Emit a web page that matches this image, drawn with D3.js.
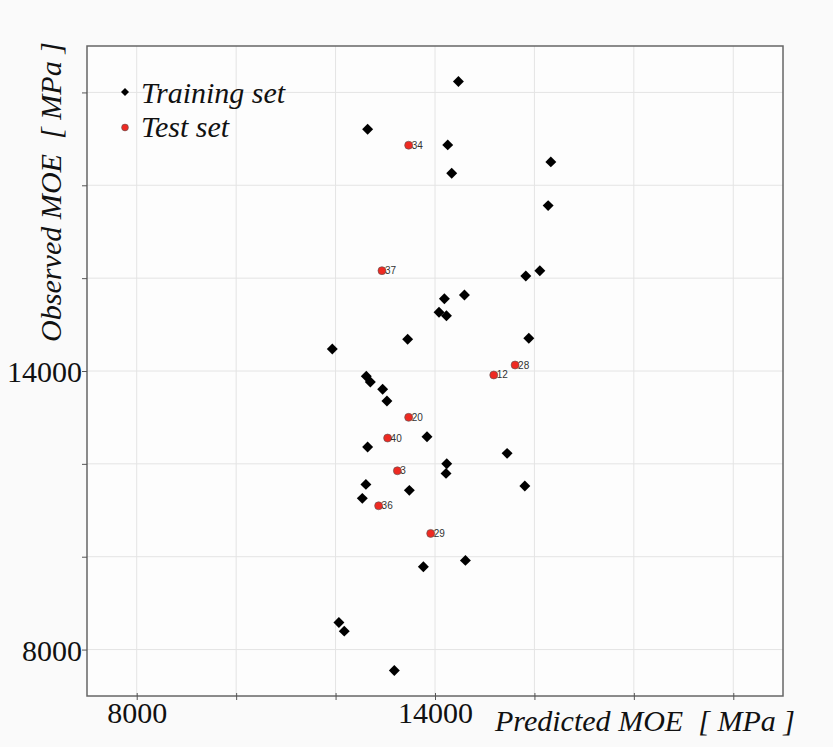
<!DOCTYPE html>
<html>
<head>
<meta charset="utf-8">
<script src="https://cdn.jsdelivr.net/npm/d3@7"></script>
<style>
  body { margin: 0; background: #fafafa; }
  svg { display: block; }
</style>
</head>
<body>
<div id="chart"></div>
<script>
// Training set: predicted vs observed MOE (MPa)
const trainPredicted = [14471, 12645, 14256, 14336, 16330, 16276, 16109, 15827, 14592, 14189,
  14081, 14230, 13450, 15887, 11934, 12618, 12699, 12947, 13033, 13839,
  12645, 15450, 14236, 14222, 12610, 15807, 13484, 12538, 14612, 13766,
  12067, 12175, 13182];
const trainObserved = [20234, 19209, 18870, 18260, 18504, 17562, 16161, 16047, 15638, 15558,
  15265, 15192, 14683, 14705, 14474, 13886, 13763, 13606, 13354, 12584,
  12362, 12226, 12002, 11795, 11558, 11522, 11429, 11257, 9921, 9783,
  8584, 8397, 7550];

// Test set
const testIds = ["34", "37", "28", "12", "20", "40", "3", "36", "29"];
const testPredicted = [13470, 12933, 15611, 15182, 13470, 13047, 13243, 12866, 13913];
const testObserved = [18863, 16161, 14129, 13914, 13002, 12556, 11851, 11097, 10502];

const gridTicks = [8000, 10000, 12000, 14000, 16000, 18000, 20000];
const labelledTicks = [8000, 14000];

const width = 833;
const height = 747;

const svg = d3.select("#chart")
    .append("svg")
    .attr("width", width)
    .attr("height", height);

const x = d3.scaleLinear().domain([7000, 21000]).range([87, 783]);
const y = d3.scaleLinear().domain([7000, 21000]).range([696, 46]);

const serif = "'Liberation Serif', 'Times New Roman', serif";

// plot background
svg.append("rect")
    .attr("x", x(7000)).attr("y", y(21000))
    .attr("width", x(21000) - x(7000))
    .attr("height", y(7000) - y(21000))
    .attr("fill", "#fdfdfd");

// grid
svg.append("g")
    .selectAll("line.gx")
    .data(gridTicks)
    .enter()
    .append("line")
    .attr("x1", d => x(d)).attr("x2", d => x(d))
    .attr("y1", y(7000)).attr("y2", y(21000))
    .attr("stroke", "#e4e4e4").attr("stroke-width", 1);

svg.append("g")
    .selectAll("line.gy")
    .data(gridTicks)
    .enter()
    .append("line")
    .attr("y1", d => y(d)).attr("y2", d => y(d))
    .attr("x1", x(7000)).attr("x2", x(21000))
    .attr("stroke", "#e4e4e4").attr("stroke-width", 1);

// frame
svg.append("rect")
    .attr("x", x(7000)).attr("y", y(21000))
    .attr("width", x(21000) - x(7000))
    .attr("height", y(7000) - y(21000))
    .attr("fill", "none")
    .attr("stroke", "#666")
    .attr("stroke-width", 1.5);

// axes
const fmt = d => labelledTicks.includes(d) ? String(d) : "";

const xAxis = svg.append("g")
    .attr("transform", `translate(0,${y(7000)})`)
    .call(d3.axisBottom(x).tickValues(gridTicks).tickFormat(fmt).tickSize(4).tickPadding(0));
xAxis.select(".domain").remove();
xAxis.selectAll("line").attr("stroke", "#555").attr("y1", -3);
xAxis.selectAll("text")
    .attr("font-family", serif)
    .attr("font-size", 30)
    .attr("fill", "#111")
    .attr("y", 27)
    .attr("dy", null);

const yAxis = svg.append("g")
    .attr("transform", `translate(${x(7000)},0)`)
    .call(d3.axisLeft(y).tickValues(gridTicks).tickFormat(fmt).tickSize(5).tickPadding(0));
yAxis.select(".domain").remove();
yAxis.selectAll("line").attr("stroke", "#555");
yAxis.selectAll("text")
    .attr("font-family", serif)
    .attr("font-size", 30)
    .attr("fill", "#111")
    .attr("dy", "0.35em");

// axis titles
svg.append("text")
    .attr("x", 495)
    .attr("y", 731)
    .attr("font-family", serif)
    .attr("font-style", "italic")
    .attr("font-size", 30)
    .attr("fill", "#111")
    .attr("textLength", 300)
    .attr("lengthAdjust", "spacingAndGlyphs")
    .attr("xml:space", "preserve")
    .text("Predicted MOE  [ MPa ]");

svg.append("text")
    .attr("transform", "translate(61,342) rotate(-90)")
    .attr("font-family", serif)
    .attr("font-style", "italic")
    .attr("font-size", 30)
    .attr("fill", "#111")
    .attr("textLength", 300)
    .attr("lengthAdjust", "spacingAndGlyphs")
    .attr("xml:space", "preserve")
    .text("Observed MOE  [ MPa ]");

// diamonds: squares turned 45 degrees
const diamond = d3.symbol().type(d3.symbolSquare);
const trainData = trainPredicted.map((p, i) => ({ p: p, o: trainObserved[i] }));
const testData = testPredicted.map((p, i) => ({ p: p, o: testObserved[i], id: testIds[i] }));

// training points
svg.append("g")
    .selectAll("path")
    .data(trainData)
    .enter()
    .append("path")
    .attr("d", diamond.size(60)())
    .attr("transform", d => `translate(${x(d.p)},${y(d.o)}) rotate(45)`)
    .attr("fill", "#000");

// test points
svg.append("g")
    .selectAll("circle")
    .data(testData)
    .enter()
    .append("circle")
    .attr("cx", d => x(d.p))
    .attr("cy", d => y(d.o))
    .attr("r", 4)
    .attr("fill", "#ee2a22")
    .attr("stroke", "#555")
    .attr("stroke-width", 0.6);

svg.append("g")
    .selectAll("text")
    .data(testData)
    .enter()
    .append("text")
    .attr("x", d => x(d.p) + 3)
    .attr("y", d => y(d.o) + 3.5)
    .attr("font-family", "'Liberation Sans', Arial, sans-serif")
    .attr("font-size", 10)
    .attr("fill", "#333")
    .text(d => d.id);

// legend
const legend = svg.append("g");
legend.append("path")
    .attr("d", diamond.size(32)())
    .attr("transform", "translate(125,92) rotate(45)")
    .attr("fill", "#000");
legend.append("text")
    .attr("x", 141).attr("y", 103)
    .attr("font-family", serif)
    .attr("font-style", "italic")
    .attr("font-size", 30)
    .attr("fill", "#111")
    .text("Training set");
legend.append("circle")
    .attr("cx", 125).attr("cy", 127.5)
    .attr("r", 3.4)
    .attr("fill", "#ee2a22")
    .attr("stroke", "#555")
    .attr("stroke-width", 0.6);
legend.append("text")
    .attr("x", 141).attr("y", 137)
    .attr("font-family", serif)
    .attr("font-style", "italic")
    .attr("font-size", 30)
    .attr("fill", "#111")
    .text("Test set");
</script>
</body>
</html>
